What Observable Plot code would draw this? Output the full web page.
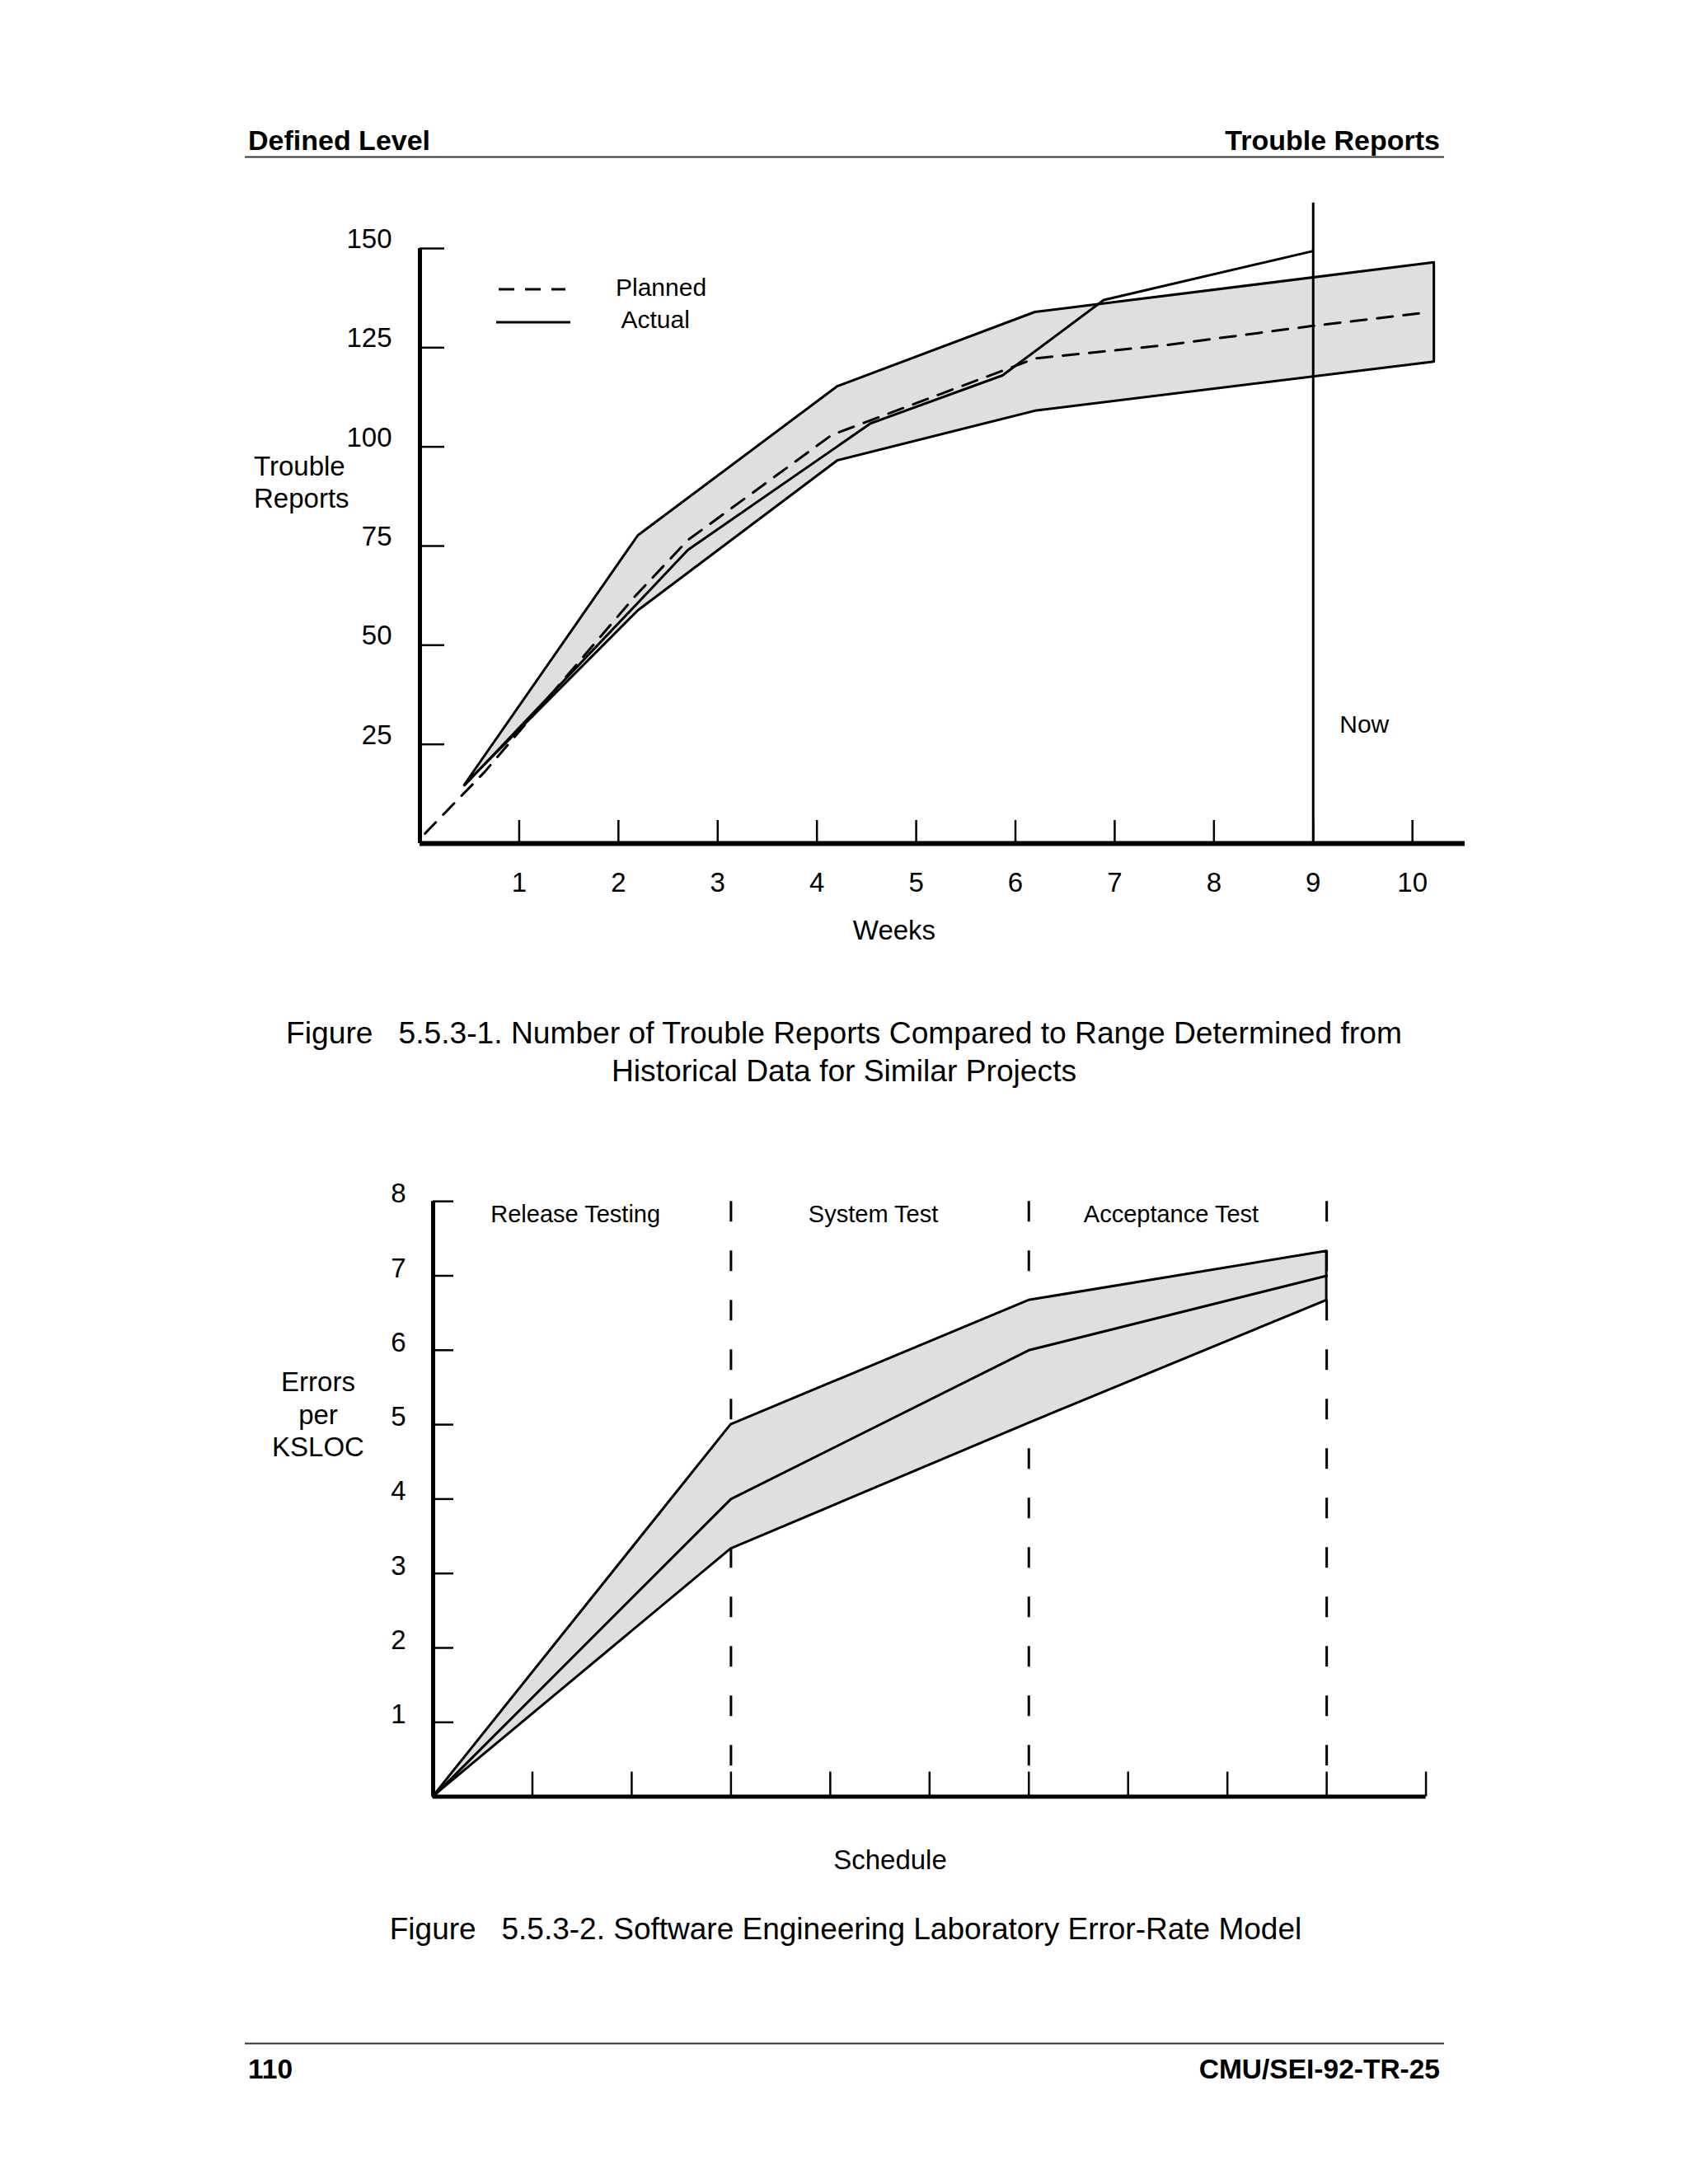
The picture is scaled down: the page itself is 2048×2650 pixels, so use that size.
<!DOCTYPE html>
<html>
<head>
<meta charset="utf-8">
<script src="https://cdn.jsdelivr.net/npm/d3@7"></script>
<script src="https://cdn.jsdelivr.net/npm/@observablehq/plot@0.6"></script>
<style>
  body { margin: 0; background: #fff; }
  #page { position: relative; width: 2048px; height: 2650px; background: #fff; overflow: hidden;
          font-family: 'Liberation Sans', Arial, Helvetica, sans-serif; }
  #page > svg { position: absolute; left: 0; margin: 0; }
</style>
</head>
<body>
<div id="page"></div>
<script>
// ---------------- Figure 5.5.3-1 data ----------------
const weeks = [1, 2, 3, 4, 5, 6, 7, 8, 9, 10];
const reportTicks = [25, 50, 75, 100, 125, 150];
const bandWeeks = [0.45, 2.2, 4.21, 6.2, 10.22];
const bandLower = [14.7, 58.7, 96.5, 109, 121.4];
const bandUpper = [14.7, 77.6, 115.2, 133.9, 146.4];
const plannedWeeks = [0.05, 0.65, 2.17, 2.7, 4.15, 6.2, 7.5, 9.0, 10.15];
const plannedReports = [2.5, 18, 62.4, 76.5, 103, 122.3, 125.6, 130.5, 133.9];
const actualWeeks = [0.45, 2.17, 2.7, 4.54, 5.87, 6.89, 8.99];
const actualReports = [14.7, 60, 74, 105.9, 118, 137, 149.3];
const nowWeek = 9;
const nowLineTop = 161.5;
const nowLabel = "Now";
const nowLabelLevel = 30;

// ---------------- Figure 5.5.3-2 data ----------------
const scheduleTicks = [1, 2, 3, 4, 5, 6, 7, 8, 9, 10];
const rateTicks = [1, 2, 3, 4, 5, 6, 7, 8];
const phaseBounds = [0, 3, 6, 9];
const phaseLabels = ["Release Testing", "System Test", "Acceptance Test"];
const modelLower = [0, 3.33, 5.02, 6.67];
const modelMid = [0, 4, 6, 7];
const modelUpper = [0, 5, 6.67, 7.33];

const W = 2048;
const FONT = "'Liberation Sans', Arial, Helvetica, sans-serif";
const GRAY = "#dfdfdf";
const page = document.getElementById("page");

// ---------------- Figure 1 ----------------
{
  const top = 200, H = 1000;
  const frameTop = 301, frameBottom = 1023, frameLeft = 509, frameRight = 1777;
  const xMax = 10.53;
  const plotH = frameBottom - frameTop, plotW = frameRight - frameLeft;
  const band = bandWeeks.map((w, i) => ({week: w, lo: bandLower[i], hi: bandUpper[i]}));
  const planned = plannedWeeks.map((w, i) => ({week: w, reports: plannedReports[i]}));
  const actual = actualWeeks.map((w, i) => ({week: w, reports: actualReports[i]}));
  const chart = Plot.plot({
    width: W, height: H,
    marginTop: frameTop - top, marginBottom: top + H - frameBottom,
    marginLeft: frameLeft, marginRight: W - frameRight,
    x: {domain: [0, xMax]},
    y: {domain: [0, 150]},
    style: {fontFamily: FONT, fontSize: "33px", color: "#000", background: "transparent", overflow: "visible"},
    marks: [
      Plot.areaY(band, {x: "week", y1: "lo", y2: "hi", fill: GRAY, stroke: "#000", strokeWidth: 3}),
      Plot.line(actual, {x: "week", y: "reports", stroke: "#000", strokeWidth: 3}),
      Plot.line(planned, {x: "week", y: "reports", stroke: "#000", strokeWidth: 3, strokeDasharray: "19,13"}),
      Plot.ruleX([nowWeek], {y1: 0, y2: nowLineTop, stroke: "#000", strokeWidth: 3}),
      Plot.text([nowLabel], {text: d => d, x: nowWeek, y: nowLabelLevel, dx: 32, textAnchor: "start", fontSize: 30, fill: "#000"}),
      Plot.ruleX([0], {y1: 0, y2: 150, stroke: "#000", strokeWidth: 5}),
      Plot.ruleY([0], {x1: 0, x2: xMax, stroke: "#000", strokeWidth: 6}),
      Plot.tickX(weeks, {x: d => d, insetTop: plotH - 28, stroke: "#000", strokeWidth: 2.5}),
      Plot.tickY(reportTicks, {y: d => d, insetRight: plotW - 30, stroke: "#000", strokeWidth: 2.5}),
      Plot.axisX({ticks: weeks, tickSize: 0, tickPadding: 35, label: null, fontSize: 33}),
      Plot.axisY({ticks: reportTicks, tickSize: 0, tickPadding: 34, dy: -11, label: null, fontSize: 33})
    ]
  });
  chart.style.top = top + "px";
  page.appendChild(chart);
}

// ---------------- Figure 2 ----------------
{
  const top = 1380, H = 920;
  const frameTop = 1457.2, frameBottom = 2179.6, frameLeft = 525, frameRight = 1729.6;
  const plotH = frameBottom - frameTop, plotW = frameRight - frameLeft;
  const model = phaseBounds.map((t, i) => ({t, lo: modelLower[i], mid: modelMid[i], hi: modelUpper[i]}));
  const chart = Plot.plot({
    width: W, height: H,
    marginTop: frameTop - top, marginBottom: top + H - frameBottom,
    marginLeft: frameLeft, marginRight: W - frameRight,
    x: {domain: [0, 10], axis: null},
    y: {domain: [0, 8]},
    style: {fontFamily: FONT, fontSize: "33px", color: "#000", background: "transparent", overflow: "visible"},
    marks: [
      Plot.ruleX(phaseBounds.slice(1), {x: d => d, y1: 8, y2: 0, stroke: "#000", strokeWidth: 3, strokeDasharray: "25,35"}),
      Plot.areaY(model, {x: "t", y1: "lo", y2: "hi", fill: GRAY, stroke: "#000", strokeWidth: 3}),
      Plot.line(model, {x: "t", y: "mid", stroke: "#000", strokeWidth: 3}),
      Plot.text(phaseLabels, {text: d => d, x: (d, i) => (phaseBounds[i] + phaseBounds[i + 1]) / 2, y: 7.82, dx: -8, fontSize: 29, fill: "#000"}),
      Plot.ruleX([0], {y1: 0, y2: 8, stroke: "#000", strokeWidth: 5}),
      Plot.ruleY([0], {x1: 0, x2: 10, stroke: "#000", strokeWidth: 5}),
      Plot.tickX(scheduleTicks, {x: d => d, insetTop: plotH - 30, stroke: "#000", strokeWidth: 2.5}),
      Plot.tickY(rateTicks, {y: d => d, insetRight: plotW - 25, stroke: "#000", strokeWidth: 2.5}),
      Plot.axisY({ticks: rateTicks, tickSize: 0, tickPadding: 33, dy: -9, label: null, fontSize: 33})
    ]
  });
  chart.style.top = top + "px";
  page.appendChild(chart);
}

// ---------------- page text: header, footer, captions, axis titles, legend ----------------
{
  const ns = "http://www.w3.org/2000/svg";
  const svg = document.createElementNS(ns, "svg");
  svg.setAttribute("width", W);
  svg.setAttribute("height", 2650);
  svg.style.top = "0px";
  svg.style.pointerEvents = "none";
  svg.setAttribute("font-family", FONT);
  const add = (tag, attrs, text) => {
    const el = document.createElementNS(ns, tag);
    for (const k in attrs) el.setAttribute(k, attrs[k]);
    if (text != null) el.textContent = text;
    svg.appendChild(el);
    return el;
  };
  // header
  add("text", {x: 301, y: 182, "font-size": 34, "font-weight": "bold"}, "Defined Level");
  add("text", {x: 1747, y: 182, "font-size": 34, "font-weight": "bold", "text-anchor": "end"}, "Trouble Reports");
  add("line", {x1: 297, x2: 1752, y1: 190.5, y2: 190.5, stroke: "#333", "stroke-width": 2});
  // footer
  add("line", {x1: 297, x2: 1752, y1: 2479.5, y2: 2479.5, stroke: "#333", "stroke-width": 2});
  add("text", {x: 301, y: 2522, "font-size": 33.5, "font-weight": "bold"}, "110");
  add("text", {x: 1747, y: 2522, "font-size": 33.5, "font-weight": "bold", "text-anchor": "end"}, "CMU/SEI-92-TR-25");
  // figure 1 titles
  add("text", {x: 308, y: 577, "font-size": 33}, "Trouble");
  add("text", {x: 308, y: 616, "font-size": 33}, "Reports");
  add("text", {x: 1085, y: 1140, "font-size": 33, "text-anchor": "middle"}, "Weeks");
  add("text", {x: 1024, y: 1266, "font-size": 37.2, "text-anchor": "middle"},
      "Figure\u00a0\u00a0\u00a05.5.3-1. Number of Trouble Reports Compared to Range Determined from");
  add("text", {x: 1024, y: 1312, "font-size": 37.2, "text-anchor": "middle"}, "Historical Data for Similar Projects");
  // legend
  add("line", {x1: 605, x2: 686, y1: 351, y2: 351, stroke: "#000", "stroke-width": 3, "stroke-dasharray": "19,13"});
  add("line", {x1: 602, x2: 692, y1: 391, y2: 391, stroke: "#000", "stroke-width": 3});
  add("text", {x: 747, y: 358.6, "font-size": 30}, "Planned");
  add("text", {x: 753.5, y: 398.4, "font-size": 30}, "Actual");
  // figure 2 titles
  add("text", {x: 386, y: 1688, "font-size": 33, "text-anchor": "middle"}, "Errors");
  add("text", {x: 386, y: 1727.5, "font-size": 33, "text-anchor": "middle"}, "per");
  add("text", {x: 386, y: 1767, "font-size": 33, "text-anchor": "middle"}, "KSLOC");
  add("text", {x: 1080, y: 2268, "font-size": 33, "text-anchor": "middle"}, "Schedule");
  add("text", {x: 1026, y: 2353, "font-size": 37, "text-anchor": "middle"},
      "Figure\u00a0\u00a0\u00a05.5.3-2. Software Engineering Laboratory Error-Rate Model");
  page.appendChild(svg);
}
</script>
</body>
</html>
